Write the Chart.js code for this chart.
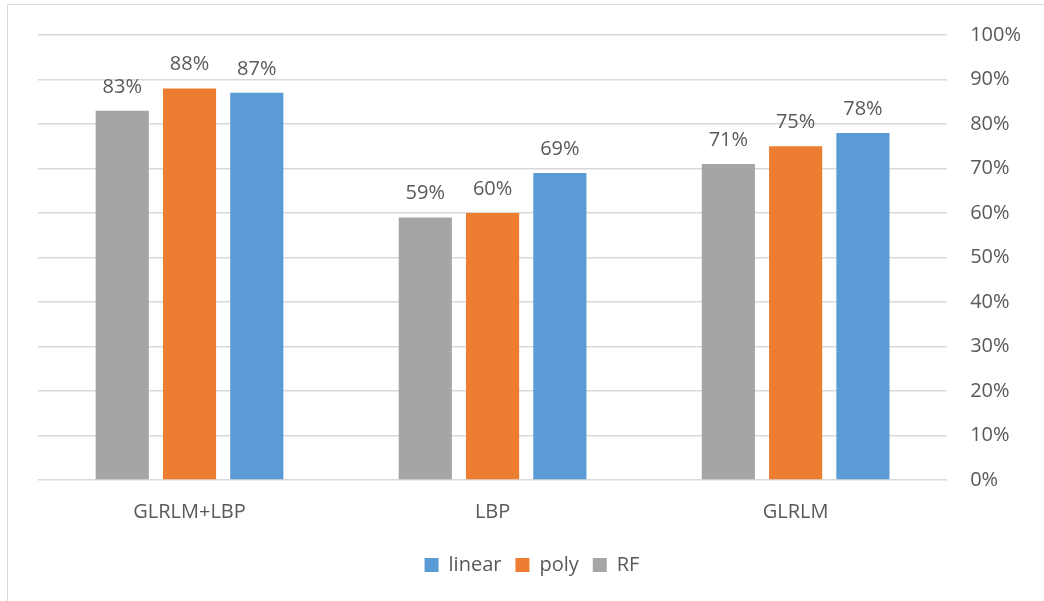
<!DOCTYPE html>
<html>
<head>
<meta charset="utf-8">
<script src="https://cdn.jsdelivr.net/npm/chart.js@4"></script>
<style>
  html, body { margin: 0; padding: 0; background: #fff; }
  #wrap { position: relative; width: 1044px; height: 601px; overflow: hidden; }
  #frame { position: absolute; left: 7px; top: 4px; width: 1060px; height: 620px; border: 1px solid #d9d9d9; box-sizing: border-box; }
  canvas { position: absolute; left: 0; top: 0; }
</style>
</head>
<body>
<div id="wrap">
  <div id="frame"></div>
  <canvas id="chart" width="1044" height="601"></canvas>
</div>
<script>
  const categories = ["GLRLM+LBP", "LBP", "GLRLM"];
  const rfValues = [83, 59, 71];
  const polyValues = [88, 60, 75];
  const linearValues = [87, 69, 78];
  const yTicks = [0, 10, 20, 30, 40, 50, 60, 70, 80, 90, 100];

  const textColor = "#595959";
  const font = "'Open Sans', 'Liberation Sans', sans-serif";

  // draw the value above each bar
  const valueLabels = {
    id: "valueLabels",
    afterLayout(chart) {
      // legend sits a bit left of the page centre
      chart.legend.left -= 9;
      chart.legend.right -= 9;
    },
    afterDatasetsDraw(chart) {
      const ctx = chart.ctx;
      ctx.save();
      ctx.fillStyle = textColor;
      ctx.font = "20px " + font;
      ctx.textAlign = "center";
      ctx.textBaseline = "alphabetic";
      chart.data.datasets.forEach((ds, i) => {
        chart.getDatasetMeta(i).data.forEach((bar, j) => {
          ctx.fillText(ds.data[j] + "%", bar.x, bar.y - 18);
        });
      });
      ctx.restore();
    }
  };

  new Chart(document.getElementById("chart"), {
    type: "bar",
    data: {
      labels: categories,
      datasets: [
        { label: "RF", data: rfValues, backgroundColor: "#a5a5a5" },
        { label: "poly", data: polyValues, backgroundColor: "#ed7d31" },
        { label: "linear", data: linearValues, backgroundColor: "#5b9bd5" }
      ]
    },
    options: {
      responsive: false,
      animation: false,
      events: [],
      layout: { padding: { left: 38, right: 0, top: 21, bottom: 16 } },
      datasets: { bar: { categoryPercentage: 0.666, barPercentage: 0.79 } },
      scales: {
        x: {
          grid: { display: false },
          border: { display: false },
          afterFit(scale) { scale.height += 5; },
          ticks: { color: textColor, font: { size: 20, family: font }, padding: 12 }
        },
        y: {
          position: "right",
          min: 0,
          max: 100,
          afterBuildTicks(axis) { axis.ticks = yTicks.map(v => ({ value: v })); },
          grid: { color: "#d9d9d9", lineWidth: 1.5, drawTicks: false },
          border: { display: false },
          ticks: {
            color: textColor,
            font: { size: 20, family: font },
            padding: 23,
            callback: v => v + "%"
          }
        }
      },
      plugins: {
        legend: {
          position: "bottom",
          reverse: true,
          labels: {
            color: textColor,
            font: { size: 20, family: font },
            boxWidth: 14,
            boxHeight: 14,
            padding: 14
          }
        },
        tooltip: { enabled: false }
      }
    },
    plugins: [valueLabels]
  });
</script>
</body>
</html>
